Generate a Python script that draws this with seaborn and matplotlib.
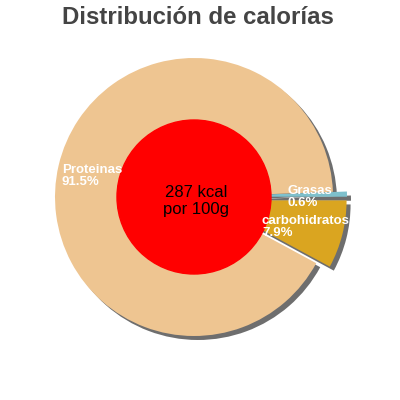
import matplotlib
matplotlib.use("Agg")
import matplotlib.pyplot as plt
import seaborn as sns

categories = ["Grasas", "carbohidratos", "Proteinas"]
values = [0.6, 7.9, 91.5]
pct_labels = ["0.6%", "7.9%", "91.5%"]
colors = ["#7ec0cc", "#daa520", "#eec591"]
title = "Distribución de calorías"
center_text = "287 kcal\npor 100g"

sns.set_theme(style="white")
plt.rcParams['font.family'] = ['Liberation Sans', 'DejaVu Sans']

fig = plt.figure(figsize=(4, 4), dpi=100)
ax = fig.add_axes([0, 0, 1, 1])

cx, cy, R = 194, 203, 139
explode = [14, 14, 0]
start = 360 * values[0] / 100.0

# shadow
ax.pie(values, colors=["#6e6e6e"] * 3, startangle=start, counterclock=False,
       center=(cx + 4, cy - 4), radius=R, explode=explode, frame=True,
       wedgeprops=dict(linewidth=0))
ax.pie(values, colors=colors, startangle=start, counterclock=False,
       center=(cx, cy), radius=R, explode=explode, frame=True,
       wedgeprops=dict(linewidth=0))
ax.set_xlim(0, 400)
ax.set_ylim(0, 400)
ax.set_aspect("equal")
ax.axis("off")

ax.add_patch(plt.Circle((cx, cy), 77, color="#ff0000", zorder=5))
ax.text(cx + 2, cy - 4, center_text, ha="center", va="center", fontsize=12,
        color="black", zorder=6, linespacing=1.15)

lab_pos = [(288, 203), (262, 173), (62, 224)]
for (x, y), c, p in zip(lab_pos, categories, pct_labels):
    ax.text(x, y, c + "\n" + p, ha="left", va="center", fontsize=9.5,
            fontweight="bold", color="white", zorder=7, linespacing=0.95)

fig.text(0.495, 0.955, title, ha="center", va="center", fontsize=17.3,
         fontweight="bold", color="#444444")

fig.savefig("out.png", dpi=100)
